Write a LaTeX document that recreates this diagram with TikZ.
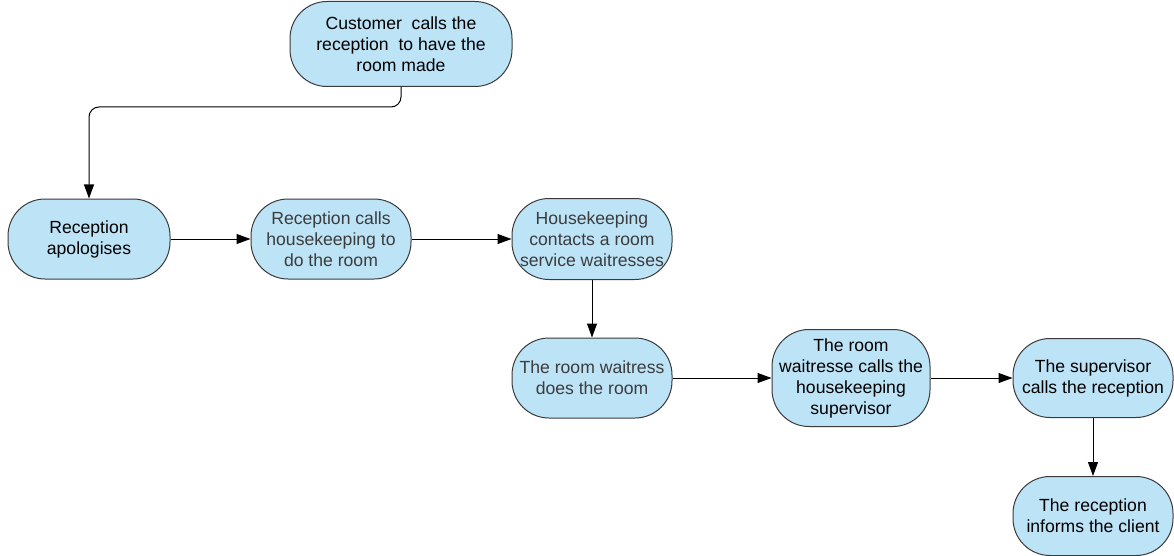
\documentclass[tikz,border=0pt]{standalone}
\usepackage{fontspec}
\setmainfont{Liberation Sans}
\usetikzlibrary{arrows.meta}
\definecolor{boxfill}{HTML}{BDE3F7}
\definecolor{boxline}{HTML}{3A3A3A}
\definecolor{softtext}{HTML}{3C3C3C}
\begin{document}
\begin{tikzpicture}[x=1pt,y=-1pt,
  stepbox/.style={draw=boxline, line width=1pt, fill=boxfill, rounded corners=37pt,
    align=center, inner sep=0pt, text=black,
    font=\fontsize{17.6}{21}\selectfont},
  flow/.style={draw=black, line width=1pt, -{Triangle[length=14pt,width=10pt]}}]
\useasboundingbox (0,0) rectangle (1174,556);
% process steps
\node[stepbox, minimum width=222pt, minimum height=85pt] (call) at (401,44)
  {Customer\ \ calls the\\reception\ \ to have the\\room made};
\node[stepbox, minimum width=162pt, minimum height=80pt] (apol) at (89,239)
  {Reception\\apologises};
\node[stepbox, minimum width=160pt, minimum height=80pt, text=softtext] (hk) at (331,239)
  {Reception calls\\housekeeping to\\do the room};
\node[stepbox, minimum width=160pt, minimum height=81pt, text=softtext] (contact) at (592,239)
  {Housekeeping\\contacts a room\\service waitresses};
\node[stepbox, minimum width=160pt, minimum height=80pt, text=softtext] (does) at (592,378)
  {The room waitress\\does the room};
\node[stepbox, minimum width=158pt, minimum height=97pt] (sup) at (851,378)
  {The room\\waitresse calls the\\housekeeping\\supervisor};
\node[stepbox, minimum width=160pt, minimum height=79pt] (rec) at (1093,378)
  {The supervisor\\calls the reception};
\node[stepbox, minimum width=160pt, minimum height=79pt] (inform) at (1093,516)
  {The reception\\informs the client};
% connectors
\draw[flow, rounded corners=10pt] (call.south) -- ++(0,20) -| (apol.north);
\draw[flow] (apol) -- (hk);
\draw[flow] (hk) -- (contact);
\draw[flow] (contact) -- (does);
\draw[flow] (does) -- (sup);
\draw[flow] (sup) -- (rec);
\draw[flow] (rec) -- (inform);
\end{tikzpicture}
\end{document}
